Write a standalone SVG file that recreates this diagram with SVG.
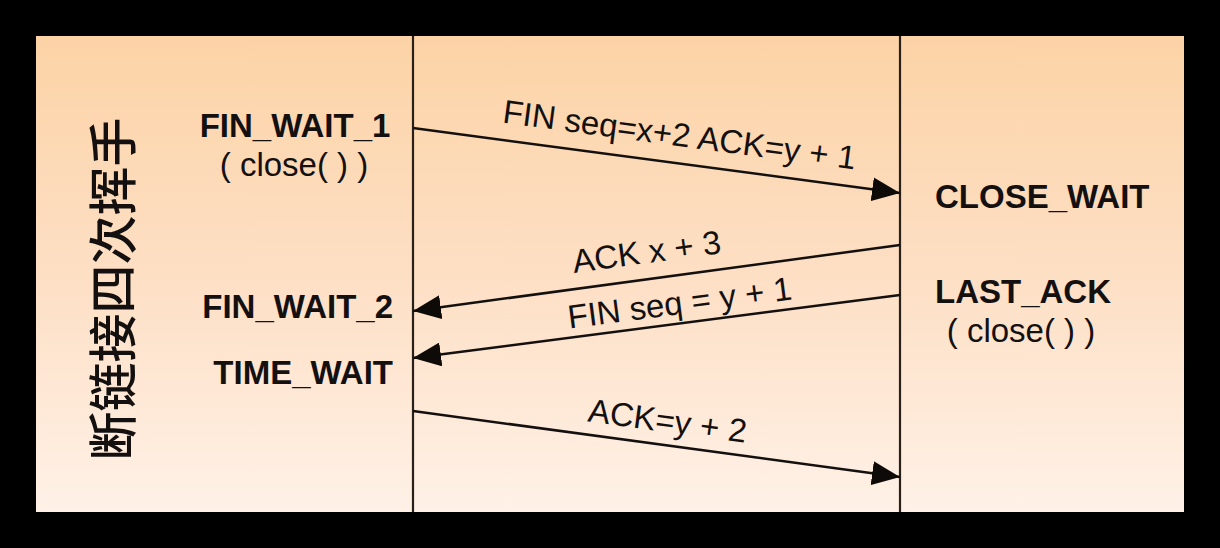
<svg xmlns="http://www.w3.org/2000/svg" width="1220" height="548" viewBox="0 0 1220 548">
  <style>
    .state { font-family: "Liberation Sans", Arial, sans-serif; font-weight: bold; font-size: 33px; fill: #141010; }
    .call { font-family: "Liberation Sans", Arial, sans-serif; font-size: 33px; fill: #141010; }
    .msg { font-family: "Liberation Sans", Arial, sans-serif; font-size: 33px; fill: #141010; text-anchor: middle; }
    .life { stroke: #2a201a; stroke-width: 2.2; }
    .arrow { stroke: #141010; stroke-width: 2.5; fill: none; marker-end: url(#head); }
  </style>
  <defs>
    <linearGradient id="bg" x1="0" y1="0" x2="0" y2="1">
      <stop offset="0" stop-color="#FCD3A6"/>
      <stop offset="0.5" stop-color="#FDDFC4"/>
      <stop offset="1" stop-color="#FFF1E7"/>
    </linearGradient>
    <marker id="head" markerUnits="userSpaceOnUse" markerWidth="30" markerHeight="24" refX="28" refY="12" orient="auto">
      <path d="M0,0 L28,12 L0,24 Z" fill="#0e0a08"/>
    </marker>
  </defs>
  <rect x="0" y="0" width="1220" height="548" fill="#000"/>
  <rect x="36" y="36" width="1148" height="476" fill="url(#bg)"/>

  <g id="title">
    <text transform="translate(109,289) rotate(-90)" text-anchor="middle" dominant-baseline="central" font-family="'Noto Sans CJK SC', 'Noto Sans CJK JP', sans-serif" font-size="49" font-weight="500" fill="#141010">断链接四次挥手</text>
  </g>

  <g id="lifelines">
    <line class="life" x1="413" y1="36" x2="413" y2="512"/>
    <line class="life" x1="900" y1="36" x2="900" y2="512"/>
  </g>

  <g id="client-states">
    <g id="fin-wait-1">
      <text class="state" x="295" y="137" text-anchor="middle">FIN_WAIT_1</text>
      <text class="call" x="294" y="176" text-anchor="middle">( close( ) )</text>
    </g>
    <g id="fin-wait-2">
      <text class="state" x="393" y="318" text-anchor="end">FIN_WAIT_2</text>
    </g>
    <g id="time-wait">
      <text class="state" x="393" y="384" text-anchor="end">TIME_WAIT</text>
    </g>
  </g>

  <g id="server-states">
    <g id="close-wait">
      <text class="state" x="935" y="208">CLOSE_WAIT</text>
    </g>
    <g id="last-ack">
      <text class="state" x="935" y="303">LAST_ACK</text>
      <text class="call" x="1021" y="342" text-anchor="middle">( close( ) )</text>
    </g>
  </g>

  <g id="connectors">
    <line class="arrow" x1="413" y1="128" x2="900" y2="193"/>
    <line class="arrow" x1="900" y1="245" x2="413" y2="311"/>
    <line class="arrow" x1="900" y1="295" x2="413" y2="358"/>
    <line class="arrow" x1="413" y1="411" x2="900" y2="477"/>
  </g>

  <g id="labels">
    <text class="msg" transform="translate(678,146) rotate(7.6)">FIN seq=x+2 ACK=y + 1</text>
    <text class="msg" transform="translate(648,263) rotate(-7.7)">ACK x + 3</text>
    <text class="msg" transform="translate(681,314) rotate(-7.4)">FIN seq = y + 1</text>
    <text class="msg" transform="translate(666,432) rotate(7.7)">ACK=y + 2</text>
  </g>
</svg>
